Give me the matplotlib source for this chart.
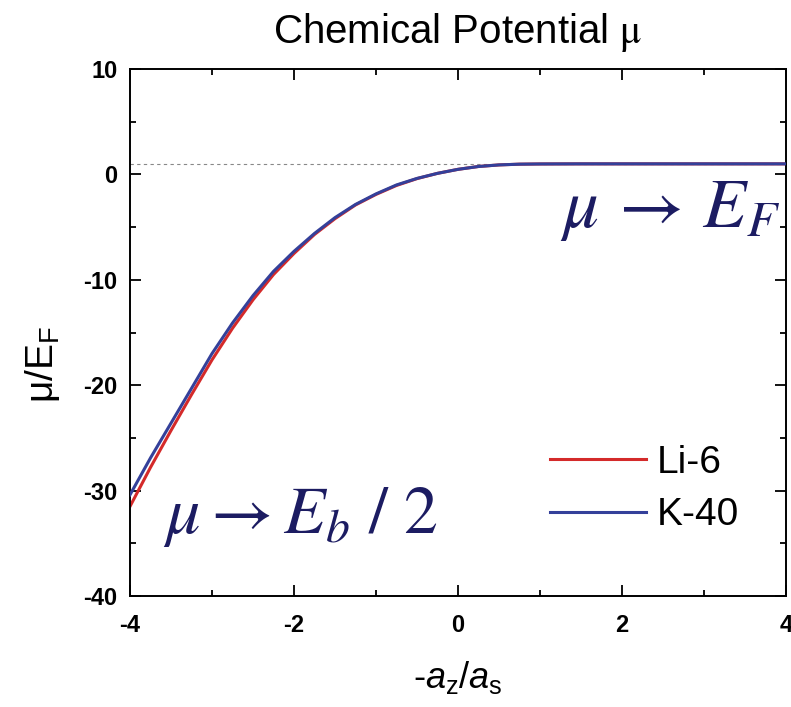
import matplotlib
matplotlib.use('Agg')
import matplotlib.pyplot as plt
from matplotlib.ticker import MultipleLocator

plt.rcParams['font.family'] = ['Liberation Sans', 'DejaVu Sans']
plt.rcParams['axes.unicode_minus'] = False
plt.rcParams['mathtext.fontset'] = 'custom'
plt.rcParams['mathtext.rm'] = 'Liberation Sans'
plt.rcParams['mathtext.it'] = 'Liberation Sans:italic'
plt.rcParams['mathtext.bf'] = 'Liberation Sans:bold'

# values
x_vals = [-4.0, -3.75, -3.5, -3.25, -3.0, -2.75, -2.5, -2.25, -2.0, -1.75, -1.5,
          -1.25, -1.0, -0.75, -0.5, -0.25, 0.0, 0.25, 0.5, 0.75, 1.0, 1.5, 2.0, 3.0, 4.0]
li6 = [-31.5, -27.8, -24.3, -20.9, -17.6, -14.6, -11.9, -9.5, -7.5, -5.7, -4.2,
       -2.9, -1.9, -1.05, -0.4, 0.1, 0.48, 0.75, 0.9, 0.97, 0.99, 1.0, 1.0, 1.0, 1.0]
k40 = [-30.4, -26.9, -23.6, -20.3, -17.0, -14.1, -11.5, -9.2, -7.3, -5.6, -4.1,
       -2.85, -1.85, -1.0, -0.38, 0.1, 0.48, 0.75, 0.9, 0.97, 0.99, 1.0, 1.0, 1.0, 1.0]
ef_level = 1.0

navy = '#1c1c62'

fig = plt.figure(figsize=(7.91, 7.07), dpi=100)
ax = fig.add_axes([130 / 791, 1 - 596 / 707, 656 / 791, 527 / 707])

ax.axhline(ef_level, color='#888888', linestyle=(0, (3, 3)), linewidth=0.8, zorder=1)
ax.plot(x_vals, li6, color='#d42a2a', linewidth=2.2, label='Li-6', zorder=2)
ax.plot(x_vals, k40, color='#34409a', linewidth=2.2, label='K-40', zorder=3)

ax.set_xlim(-4, 4)
ax.set_ylim(-40, 10)
ax.xaxis.set_major_locator(MultipleLocator(2))
ax.xaxis.set_minor_locator(MultipleLocator(1))
ax.yaxis.set_major_locator(MultipleLocator(10))
ax.yaxis.set_minor_locator(MultipleLocator(5))
ax.tick_params(which='both', direction='in', top=True, right=True, width=1.3)
ax.tick_params(which='major', length=8)
ax.tick_params(which='minor', length=4.3)
ax.tick_params(axis='x', which='major', pad=13)
ax.tick_params(axis='y', which='major', pad=9)
for lab in ax.get_xticklabels() + ax.get_yticklabels():
    lab.set_fontsize(17)
    lab.set_fontweight('bold')
for sp in ax.spines.values():
    sp.set_linewidth(1.4)

ax.set_title(r'Chemical Potential $\mathrm{\mu}$', fontsize=29, pad=19,
             math_fontfamily='stix')
ax.set_xlabel(r'-$a_{\rm z}$/$a_{\rm s}$', fontsize=26)
ax.xaxis.set_label_coords(0.5, -0.12)
ax.set_ylabel(r'$\mathregular{\mu/E_F}$', fontsize=28)
ax.yaxis.set_label_coords(-0.104, 0.44)

ax.legend(loc='center left', bbox_to_anchor=(0.640, 0.203), frameon=False,
          fontsize=28, handlelength=2.46, handletextpad=0.28, labelspacing=0.42,
          borderpad=0, borderaxespad=0)

ax.text(0.655, 0.70, r'$\mu\,\rightarrow\,E_F$', transform=ax.transAxes,
        fontsize=51, color=navy, math_fontfamily='stix', ha='left', va='baseline')
ax.text(0.05, 0.12, r'$\mu \rightarrow E_b\ /\ 2$', transform=ax.transAxes,
        fontsize=49, color=navy, math_fontfamily='stix', ha='left', va='baseline')

fig.savefig('out.png', dpi=100)
